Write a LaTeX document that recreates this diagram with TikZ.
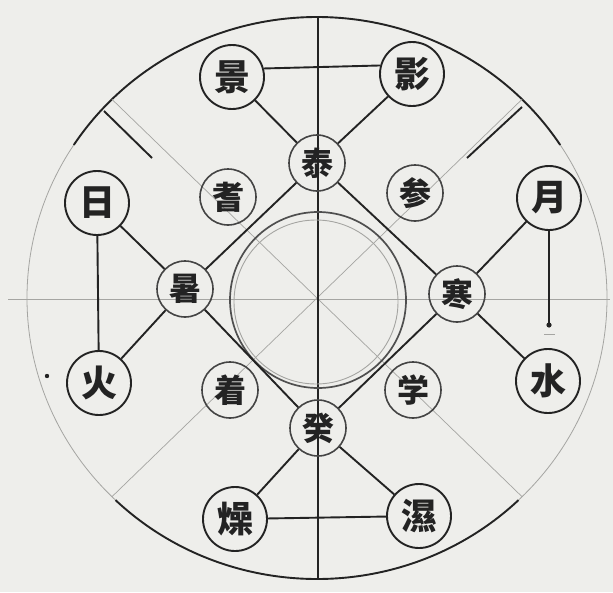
\documentclass[tikz,border=0pt]{standalone}
\usepackage{fontspec}
\newfontfamily\cjk{Noto Sans CJK TC}
\usetikzlibrary{calc}
\definecolor{paper}{RGB}{238,238,235}
\definecolor{ink}{RGB}{35,35,35}
\definecolor{faint}{RGB}{165,165,162}
\begin{document}
\begin{tikzpicture}[x=1pt,y=-1pt,
  big/.style={circle,draw=ink,line width=1.9pt,minimum size=64pt,inner sep=0pt,
    font=\cjk\bfseries\fontsize{36}{36}\selectfont,text=ink},
  mid/.style={circle,draw=ink!85,line width=1.6pt,minimum size=56pt,inner sep=0pt,
    font=\cjk\bfseries\fontsize{32}{32}\selectfont,text=ink},
  link/.style={draw=ink,line width=1.9pt},
  thin/.style={draw=faint,line width=0.8pt}]
\fill[paper] (0,0) rectangle (613,592);
\useasboundingbox (0,0) rectangle (613,592);
\coordinate (C) at (317,298);
% outer circle (faint) and heavy arcs
\draw[thin] (C) ellipse [x radius=290pt, y radius=281pt];
\draw[link] (C) ++(147:290pt and 281pt) arc[start angle=147,end angle=33,x radius=290pt,y radius=281pt];
\draw[link] (C) ++(226:290pt and 281pt) arc[start angle=226,end angle=314,x radius=290pt,y radius=281pt];
% diagonals
\coordinate (d1) at ($(C)+(45:290pt and 281pt)$);
\coordinate (d2) at ($(C)+(135:290pt and 281pt)$);
\coordinate (d3) at ($(C)+(225:290pt and 281pt)$);
\coordinate (d4) at ($(C)+(315:290pt and 281pt)$);
\draw[thin,line width=0.7pt] (d1) -- (d3);
\draw[thin,line width=0.7pt] (d2) -- (d4);
% horizontal and vertical axes
\coordinate (hl) at (8,299);
\coordinate (hr) at (610,299);
\draw[thin,line width=1pt] (hl) -- (hr);
\coordinate (vt) at (318,17);
\coordinate (vb) at (318,579);
\draw[link] (vt) -- (vb);
% inner rings
\draw[thin,line width=0.9pt] (316,302) circle[radius=82pt];
\draw[draw=ink!80,line width=1.7pt] (318,300) circle[radius=88pt];
% heavy ticks on upper diagonals
\coordinate (t1a) at (104,111);
\coordinate (t1b) at (152,158);
\coordinate (t2a) at (522,107);
\coordinate (t2b) at (467,158);
\draw[link] (t1a) -- (t1b);
\draw[link] (t2a) -- (t2b);
% nodes
\node[big] (jing) at (232,77) {景};
\node[big] (ying) at (412,74) {影};
\node[big] (ri) at (97,203) {日};
\node[big] (yue) at (549,198) {月};
\node[big] (huo) at (99,383) {火};
\node[big] (shui) at (548,381) {水};
\node[big] (zao) at (235,519) {燥};
\node[big] (shi) at (419,516) {濕};
\node[mid] (top) at (317,163) {泰};
\node[mid] (left) at (185,289) {暑};
\node[mid] (right) at (457,294) {寒};
\node[mid] (bot) at (318,428) {癸};
\node[mid] (dtl) at (228,197) {耆};
\node[mid] (dtr) at (415,193) {参};
\node[mid] (dbl) at (230,390) {着};
\node[mid] (dbr) at (413,390) {学};
% connectors
\draw[link] (jing.15) -- (ying.165);
\draw[link] (jing) -- (top);
\draw[link] (ying) -- (top);
\draw[link] (ri) -- (left);
\draw[link] (huo) -- (left);
\draw[link] (ri) -- (huo);
\draw[link] (yue) -- (right);
\draw[link] (shui) -- (right);
\draw[link] (zao) -- (bot);
\draw[link] (shi) -- (bot);
\draw[link] (zao) -- (shi);
\draw[link] (left) -- (top);
\draw[link] (top) -- (right);
\draw[link] (right) -- (bot);
\draw[link] (bot) -- (left);
% moon-water line ending in a dot
\coordinate (ydot) at (549,325);
\draw[link,line width=1.2pt] (yue) -- (ydot);
\fill[ink] (ydot) circle[radius=2.6pt];
\coordinate (m1) at (544,334);
\coordinate (m2) at (555,334);
\draw[thin] (m1) -- (m2);
% stray dot at left
\coordinate (sd) at (47,376);
\fill[ink] (sd) circle[radius=2.2pt];
\end{tikzpicture}
\end{document}
